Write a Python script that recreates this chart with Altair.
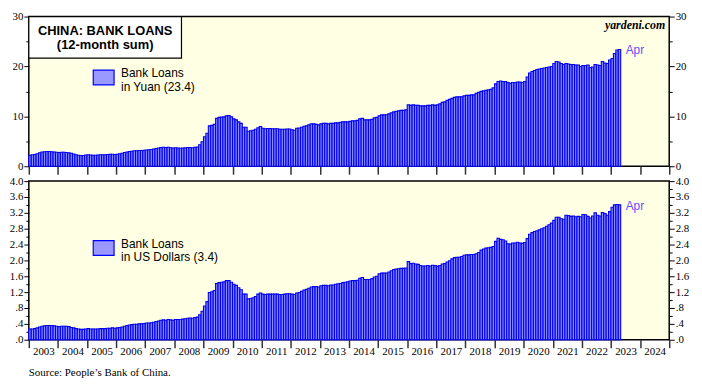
import altair as alt
import pandas as pd

# ---- data (12-month sums, trillions), monthly Jan 2003 .. Apr 2023 ----
yuan = [
    2.2, 2.3, 2.35, 2.5, 2.7, 2.85, 2.9, 2.95, 2.95, 2.9, 2.85, 2.8,        # 2003
    2.75, 2.8, 2.8, 2.75, 2.7, 2.6, 2.45, 2.3, 2.2, 2.15, 2.15, 2.25,       # 2004
    2.3, 2.25, 2.2, 2.2, 2.25, 2.3, 2.3, 2.3, 2.35, 2.4, 2.4, 2.35,         # 2005
    2.4, 2.5, 2.6, 2.75, 2.85, 2.95, 3.0, 3.1, 3.1, 3.15, 3.15, 3.2,        # 2006
    3.25, 3.3, 3.35, 3.45, 3.55, 3.65, 3.75, 3.8, 3.75, 3.8, 3.7, 3.65,    # 2007
    3.7, 3.65, 3.6, 3.65, 3.7, 3.75, 3.75, 3.7, 3.8, 3.85, 4.3, 4.9,       # 2008
    5.9, 6.6, 8.1, 8.2, 8.4, 9.6, 9.8, 9.85, 9.9, 10.1, 10.15, 9.9,        # 2009
    9.5, 9.3, 8.9, 8.6, 7.8, 7.8, 7.0, 7.1, 7.2, 7.4, 7.7, 7.95,           # 2010
    7.6, 7.5, 7.55, 7.55, 7.5, 7.5, 7.5, 7.4, 7.4, 7.4, 7.45, 7.45,        # 2011
    7.3, 7.2, 7.6, 7.65, 7.8, 8.0, 8.1, 8.3, 8.5, 8.5, 8.4, 8.3,           # 2012
    8.5, 8.6, 8.6, 8.5, 8.6, 8.6, 8.7, 8.7, 8.8, 8.9, 8.9, 8.9,            # 2013
    9.0, 9.1, 9.1, 9.2, 9.5, 9.6, 9.3, 9.3, 9.3, 9.4, 9.7, 9.8,            # 2014
    10.1, 10.3, 10.3, 10.3, 10.5, 10.7, 10.9, 11.0, 11.1, 11.2, 11.2, 11.3,  # 2015
    12.3, 12.2, 12.3, 12.2, 12.2, 12.1, 12.1, 12.1, 12.2, 12.2, 12.3, 12.2,  # 2016
    12.3, 12.5, 12.8, 12.9, 13.2, 13.4, 13.6, 13.8, 13.9, 13.9, 13.9, 14.1,  # 2017
    14.2, 14.2, 14.3, 14.3, 14.6, 14.8, 15.0, 15.1, 15.2, 15.3, 15.4, 15.7,  # 2018
    16.5, 17.0, 17.1, 17.0, 17.0, 16.8, 16.6, 16.8, 16.8, 16.9, 16.9, 16.8,  # 2019
    17.0, 17.9, 18.7, 19.0, 19.2, 19.4, 19.5, 19.6, 19.7, 19.8, 19.9, 20.0,  # 2020
    20.6, 21.0, 20.9, 20.6, 20.4, 20.6, 20.5, 20.4, 20.4, 20.3, 20.3, 20.0,  # 2021
    20.2, 20.2, 20.3, 19.8, 19.9, 20.4, 20.3, 20.2, 21.0, 20.7, 20.6, 21.3,  # 2022
    21.6, 22.6, 23.3, 23.4,                                                  # 2023
]
usd = [
    0.27, 0.27, 0.28, 0.30, 0.32, 0.34, 0.35, 0.36, 0.36, 0.36, 0.35, 0.34,  # 2003
    0.33, 0.34, 0.34, 0.34, 0.33, 0.31, 0.30, 0.28, 0.27, 0.26, 0.26, 0.27,  # 2004
    0.28, 0.27, 0.27, 0.27, 0.27, 0.28, 0.28, 0.28, 0.29, 0.29, 0.30, 0.29,  # 2005
    0.30, 0.31, 0.32, 0.34, 0.36, 0.37, 0.38, 0.39, 0.39, 0.40, 0.40, 0.41,  # 2006
    0.42, 0.42, 0.43, 0.44, 0.46, 0.47, 0.49, 0.50, 0.49, 0.51, 0.50, 0.49,  # 2007
    0.51, 0.51, 0.51, 0.52, 0.53, 0.54, 0.55, 0.54, 0.56, 0.57, 0.63, 0.72,  # 2008
    0.85, 0.96, 1.19, 1.21, 1.24, 1.42, 1.44, 1.45, 1.46, 1.49, 1.49, 1.45,  # 2009
    1.40, 1.37, 1.31, 1.26, 1.15, 1.15, 1.03, 1.04, 1.06, 1.09, 1.15, 1.18,  # 2010
    1.15, 1.14, 1.15, 1.15, 1.15, 1.15, 1.15, 1.14, 1.14, 1.15, 1.16, 1.16,  # 2011
    1.15, 1.14, 1.18, 1.19, 1.22, 1.25, 1.27, 1.30, 1.33, 1.34, 1.34, 1.33,  # 2012
    1.36, 1.37, 1.37, 1.36, 1.38, 1.38, 1.40, 1.41, 1.42, 1.44, 1.45, 1.46,  # 2013
    1.48, 1.49, 1.49, 1.50, 1.55, 1.57, 1.52, 1.52, 1.52, 1.54, 1.58, 1.60,  # 2014
    1.66, 1.68, 1.68, 1.68, 1.71, 1.74, 1.77, 1.78, 1.79, 1.80, 1.80, 1.81,  # 2015
    1.97, 1.92, 1.93, 1.91, 1.90, 1.87, 1.86, 1.86, 1.87, 1.86, 1.88, 1.87,  # 2016
    1.85, 1.87, 1.91, 1.92, 1.96, 1.99, 2.04, 2.07, 2.08, 2.08, 2.10, 2.13,  # 2017
    2.14, 2.14, 2.15, 2.15, 2.17, 2.20, 2.26, 2.29, 2.31, 2.32, 2.33, 2.35,  # 2018
    2.48, 2.56, 2.53, 2.52, 2.49, 2.42, 2.41, 2.44, 2.44, 2.46, 2.44, 2.43,  # 2019
    2.45, 2.55, 2.66, 2.70, 2.73, 2.75, 2.77, 2.80, 2.82, 2.86, 2.90, 2.94,  # 2020
    3.01, 3.09, 3.09, 3.05, 3.04, 3.14, 3.13, 3.11, 3.12, 3.10, 3.11, 3.10,  # 2021
    3.16, 3.15, 3.11, 3.07, 3.12, 3.20, 3.14, 3.12, 3.21, 3.18, 3.14, 3.23,  # 2022
    3.34, 3.40, 3.41, 3.40,                                                  # 2023
]
start_year = 2003
axis_years = list(range(2003, 2026))
yuan_ticks = [0, 10, 20, 30]
yuan_minor = [5, 15, 25]
usd_ticks = [round(0.4 * i, 1) for i in range(11)]
usd_minor = [round(0.2 + 0.4 * i, 1) for i in range(10)]
last_label = "Apr"

n = len(yuan)
df = pd.DataFrame({
    "t": [start_year + i / 12 for i in range(n)],
    "t2": [start_year + (i + 1) / 12 for i in range(n)],
    "yuan": yuan,
    "usd": usd,
})
last = df.tail(1).assign(label=last_label)
one = pd.DataFrame({"v": [0]})

W = 646
H1 = 151
H2 = 160
BAR_FILL = "#8a8aff"
BAR_STROKE = "#0000f0"
SERIF = "Liberation Serif"
SANS = "Liberation Sans"

xs = alt.Scale(domain=[2003, 2025], nice=False, zero=False)


def x_axis(labels):
    kw = dict(values=axis_years, tickSize=8, tickWidth=1.5, tickColor="#333333",
              domain=False, grid=False, title=None, labelOverlap=False, labelFlush=False)
    if labels:
        kw.update(labelExpr="datum.value < 2025 ? toString(datum.value) : ''",
                  labelOffset=W / 22 / 2, labelPadding=-2,
                  labelBound=False, labelFont=SERIF,
                  labelFontSize=11, labelColor="black")
    else:
        kw.update(labels=False)
    return alt.Axis(**kw)


def y_axis(orient, values, minor, label_expr=None):
    kw = dict(orient=orient, values=values, grid=False, domain=False, title=None,
              tickColor="black", tickWidth=1)
    if minor:
        kw.update(labels=False, tickSize=3)
    else:
        kw.update(tickSize=5, labelPadding=1, labelFont=SERIF, labelFontSize=11,
                  labelColor="black", labelFlush=False, labelOverlap=False)
        if label_expr:
            kw.update(labelExpr=label_expr)
    return alt.Axis(**kw)


def panel(field, domain, ticks, minor, H, legend_lines, label_expr=None, top=False):
    ys = alt.Scale(domain=domain, nice=False, zero=True)
    bars = alt.Chart(df).mark_bar(fill=BAR_FILL, stroke=BAR_STROKE, strokeWidth=1.1).encode(
        x=alt.X("t:Q", scale=xs, axis=x_axis(labels=not top)),
        x2="t2:Q",
        y=alt.Y(f"{field}:Q", scale=ys, axis=y_axis("left", ticks, False, label_expr)),
        y2=alt.datum(0),
    )
    axes = [
        alt.Chart(one).mark_point(opacity=0).encode(
            y=alt.Y("v:Q", scale=ys, axis=y_axis(o, vals, mn, label_expr)))
        for o, vals, mn in [("right", ticks, False), ("left", minor, True), ("right", minor, True)]
    ]
    apr = alt.Chart(last).mark_text(align="left", baseline="middle", dx=5, dy=1,
                                    font=SANS, fontSize=12, color="#6a4cff").encode(
        x=alt.X("t2:Q", scale=xs, axis=None),
        y=alt.Y(f"{field}:Q", scale=ys, axis=None),
        text="label:N",
    )
    ly = 54 if top else 60
    swatch = alt.Chart(one).mark_rect(fill="#9999ff", stroke="#0000ff", strokeWidth=1.2).encode(
        x=alt.value(65), x2=alt.value(86), y=alt.value(ly), y2=alt.value(ly + 15))
    leg1 = alt.Chart(one).mark_text(align="left", baseline="middle", font=SANS, fontSize=12,
                                    color="black", text=legend_lines[0]).encode(
        x=alt.value(93), y=alt.value(ly + 3))
    leg2 = alt.Chart(one).mark_text(align="left", baseline="middle", font=SANS, fontSize=12,
                                    color="black", text=legend_lines[1]).encode(
        x=alt.value(93), y=alt.value(ly + 17))
    layers = [bars] + axes + [apr, swatch, leg1, leg2]
    if top:
        box = alt.Chart(one).mark_rect(fill="white", stroke="black", strokeWidth=1.2).encode(
            x=alt.value(0), x2=alt.value(154), y=alt.value(0), y2=alt.value(42))
        t1 = alt.Chart(one).mark_text(align="center", baseline="middle", font=SANS, fontSize=13,
                                      fontWeight="bold", color="black",
                                      text="CHINA: BANK LOANS").encode(
            x=alt.value(77), y=alt.value(15))
        t2 = alt.Chart(one).mark_text(align="center", baseline="middle", font=SANS, fontSize=13,
                                      fontWeight="bold", color="black",
                                      text="(12-month sum)").encode(
            x=alt.value(77), y=alt.value(29))
        yard = alt.Chart(one).mark_text(align="right", baseline="middle", font=SERIF, fontSize=12,
                                        fontWeight="bold", fontStyle="italic", color="black",
                                        text="yardeni.com").encode(
            x=alt.value(W - 4), y=alt.value(9))
        layers += [box, t1, t2, yard]
    else:
        src = alt.Chart(one).mark_text(align="left", baseline="middle", font=SERIF, fontSize=11,
                                       color="black",
                                       text="Source: People\u2019s Bank of China.").encode(
            x=alt.value(0), y=alt.value(H + 34))
        layers += [src]
    return (alt.layer(*layers)
            .resolve_axis(x="independent", y="independent")
            .properties(width=W, height=H))


top = panel("yuan", [0, 30], yuan_ticks, yuan_minor, H1,
            ["Bank Loans", f"in Yuan ({yuan[-1]:.1f})"], top=True)
label_expr_usd = ("datum.value < 1 ? replace(format(datum.value, '.1f'), '0.', '.')"
                  " : format(datum.value, '.1f')")
bottom = panel("usd", [0, 4], usd_ticks, usd_minor, H2,
               ["Bank Loans", f"in US Dollars ({usd[-1]:.1f})"], label_expr=label_expr_usd)

chart = alt.vconcat(top, bottom, spacing=15, bounds="flush").properties(
    padding={"left": 0, "top": 0, "right": 4, "bottom": 0},
    background="white",
).configure_view(fill="#ffffe3", stroke="black", strokeWidth=1.5)

chart.save("out.html", embed_options={"renderer": "svg", "actions": False})
